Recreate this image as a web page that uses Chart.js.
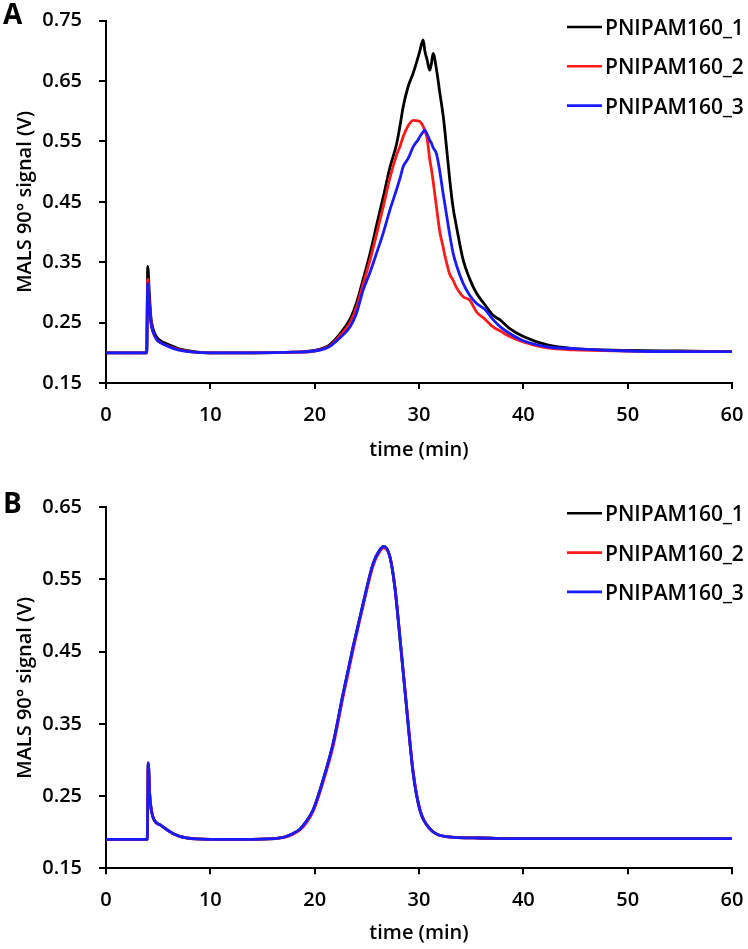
<!DOCTYPE html>
<html>
<head>
<meta charset="utf-8">
<script src="https://cdn.jsdelivr.net/npm/chart.js@4.4.1/dist/chart.umd.min.js"></script>
<style>
  html, body { margin: 0; padding: 0; background: #fff; }
  #wrap { position: relative; width: 748px; height: 949px; }
  #chartA { position: absolute; left: 0; top: 0; }
  #chartB { position: absolute; left: 0; top: 470px; }
</style>
</head>
<body>
<div id="wrap">
  <canvas id="chartA" width="748" height="470"></canvas>
  <canvas id="chartB" width="748" height="479"></canvas>
</div>
<script>
// datos
const seriesNames = ['PNIPAM160_1', 'PNIPAM160_2', 'PNIPAM160_3'];
const seriesColors = ['#000000', '#ff1a1a', '#1a1aff'];
const xTicks = [0, 10, 20, 30, 40, 50, 60];
const yTicksA = [0.15, 0.25, 0.35, 0.45, 0.55, 0.65, 0.75];
const yTicksB = [0.15, 0.25, 0.35, 0.45, 0.55, 0.65];

// panel A
const timeA = [0, 3.9, 4.0, 4.15, 4.3, 4.5, 4.85, 5.3, 5.8, 6.5, 7.1, 8.4, 10, 14, 18, 20, 21, 21.5, 22.5, 23.4, 24, 24.65,
  25.3, 25.93, 26.6, 27.2, 27.84, 28.2, 28.48, 28.96, 29.44, 29.92, 30.08, 30.4, 30.56, 30.78, 31.03, 31.2, 31.35, 31.67,
  32.0, 32.3, 32.47, 32.95, 33.27, 33.59, 34.23, 34.87, 35.5, 36.3, 37.1, 37.8, 38.7, 40, 42.3, 44.8, 50, 55, 60];
const signalA1 = [0.200, 0.200, 0.343, 0.300, 0.260, 0.240, 0.226, 0.219, 0.215, 0.210, 0.206, 0.202, 0.200, 0.200, 0.201, 0.204, 0.209, 0.214, 0.233, 0.256, 0.282, 0.322,
  0.364, 0.411, 0.460, 0.506, 0.545, 0.578, 0.607, 0.641, 0.663, 0.690, 0.700, 0.718, 0.700, 0.685, 0.668, 0.680, 0.696, 0.670,
  0.630, 0.595, 0.569, 0.486, 0.440, 0.409, 0.354, 0.322, 0.299, 0.280, 0.262, 0.254, 0.240, 0.227, 0.213, 0.207, 0.204, 0.203, 0.202];
const signalA2 = [0.200, 0.200, 0.322, 0.285, 0.252, 0.235, 0.222, 0.216, 0.212, 0.208, 0.205, 0.201, 0.200, 0.200, 0.201, 0.203, 0.208, 0.212, 0.230, 0.250, 0.275, 0.314,
  0.353, 0.396, 0.444, 0.489, 0.527, 0.543, 0.558, 0.576, 0.585, 0.584, 0.583, 0.575, 0.568, 0.555, 0.520, 0.503, 0.485, 0.442,
  0.400, 0.376, 0.362, 0.330, 0.320, 0.308, 0.293, 0.287, 0.268, 0.256, 0.243, 0.236, 0.227, 0.218, 0.208, 0.205, 0.203, 0.202, 0.202];
const signalA3 = [0.200, 0.200, 0.315, 0.280, 0.250, 0.235, 0.222, 0.216, 0.212, 0.207, 0.204, 0.201, 0.200, 0.200, 0.201, 0.203, 0.207, 0.211, 0.226, 0.243, 0.265, 0.304,
  0.333, 0.365, 0.400, 0.436, 0.470, 0.490, 0.508, 0.522, 0.541, 0.553, 0.558, 0.566, 0.569, 0.562, 0.552, 0.547, 0.540, 0.530,
  0.500, 0.465, 0.447, 0.395, 0.365, 0.345, 0.315, 0.295, 0.282, 0.272, 0.255, 0.243, 0.232, 0.220, 0.210, 0.207, 0.203, 0.202, 0.202];

// panel B
const timeB = [0, 3.95, 4.05, 4.2, 4.5, 5.2, 6.45, 7.7, 10, 14, 16.7, 17.9, 18.58, 19.2, 19.86, 20.8, 21.77, 22.73, 23.69, 24.65,
  25.6, 26.25, 26.63, 27.2, 27.68, 28.16, 28.8, 29.44, 30.08, 31.03, 32.6, 35.8, 40, 50, 60];
const signalB1 = [0.190, 0.190, 0.296, 0.250, 0.221, 0.210, 0.198, 0.192, 0.190, 0.190, 0.192, 0.198, 0.204, 0.215, 0.231, 0.272, 0.323, 0.392, 0.457, 0.517,
  0.572, 0.591, 0.596, 0.582, 0.540, 0.471, 0.374, 0.282, 0.231, 0.205, 0.194, 0.192, 0.191, 0.191, 0.191];
const signalB2 = [0.190, 0.190, 0.295, 0.250, 0.221, 0.210, 0.198, 0.192, 0.190, 0.190, 0.192, 0.197, 0.203, 0.213, 0.229, 0.269, 0.319, 0.388, 0.453, 0.514,
  0.569, 0.589, 0.594, 0.582, 0.541, 0.473, 0.376, 0.284, 0.232, 0.205, 0.194, 0.192, 0.191, 0.191, 0.191];
const signalB3 = [0.190, 0.190, 0.296, 0.250, 0.221, 0.210, 0.198, 0.192, 0.190, 0.190, 0.192, 0.198, 0.204, 0.215, 0.231, 0.272, 0.323, 0.392, 0.457, 0.517,
  0.572, 0.591, 0.596, 0.582, 0.540, 0.471, 0.374, 0.282, 0.231, 0.205, 0.194, 0.192, 0.191, 0.191, 0.191];

const FONT = '"Open Sans", "DejaVu Sans", sans-serif';
const WEIGHT = '600';
Chart.defaults.font.family = FONT;
Chart.defaults.font.weight = WEIGHT;
Chart.defaults.color = '#000';

// leyenda dentro del area y letra del panel
const panelPlugin = {
  id: 'panelDeco',
  afterDraw(chart, args, opts) {
    const { ctx, chartArea } = chart;
    ctx.save();
    ctx.fillStyle = '#000';
    ctx.textAlign = 'left';
    ctx.textBaseline = 'alphabetic';
    ctx.font = 'bold 28px ' + FONT;
    ctx.fillText(opts.letter, 3, opts.letterBase);
    ctx.font = WEIGHT + ' 21px ' + FONT;
    chart.data.datasets.forEach((ds, i) => {
      const y = opts.legendTop + i * 39.3;
      ctx.strokeStyle = ds.borderColor;
      ctx.lineWidth = 2.6;
      ctx.beginPath();
      ctx.moveTo(chartArea.right - 165, y);
      ctx.lineTo(chartArea.right - 130, y);
      ctx.stroke();
      ctx.fillText(ds.label, chartArea.right - 127, y + 8);
    });
    ctx.restore();
  }
};

function makeDatasets(times, lists) {
  return lists.map((vals, i) => ({
    label: seriesNames[i],
    data: times.map((t, j) => ({ x: t, y: vals[j] })),
    borderColor: seriesColors[i],
    backgroundColor: seriesColors[i],
    borderWidth: 2.8,
    pointRadius: 0,
    cubicInterpolationMode: 'monotone',
    order: 3 - i
  }));
}

function makeChart(id, times, lists, yTicks, cfg) {
  const canvas = document.getElementById(id);
  return new Chart(canvas, {
    type: 'line',
    data: { datasets: makeDatasets(times, lists) },
    options: {
      responsive: false,
      animation: false,
      events: [],
      layout: { padding: { top: cfg.plotTop, left: 0, right: 748 - cfg.plotRight, bottom: 0 } },
      plugins: {
        legend: { display: false },
        tooltip: { enabled: false },
        panelDeco: { letter: cfg.letter, letterBase: cfg.letterBase, legendTop: cfg.legendTop }
      },
      scales: {
        x: {
          type: 'linear',
          min: 0, max: 60,
          afterBuildTicks: s => { s.ticks = xTicks.map(v => ({ value: v })); },
          afterFit: s => {
            s.height = canvas.height - cfg.plotBottom;
            s.paddingLeft = 0;
            s.paddingRight = 0;
          },
          border: { display: true, color: '#000', width: 2 },
          grid: { drawOnChartArea: false, drawTicks: true, tickLength: 6, color: '#000', lineWidth: 2 },
          ticks: { padding: 14, font: { size: 20 }, color: '#000', maxRotation: 0 },
          title: { display: true, text: 'time (min)', font: { size: 20 }, color: '#000', padding: { top: 0, bottom: cfg.titlePad } }
        },
        y: {
          type: 'linear',
          min: yTicks[0], max: yTicks[yTicks.length - 1],
          afterBuildTicks: s => { s.ticks = yTicks.map(v => ({ value: v })); },
          afterFit: s => {
            s.width = 106;
            s.paddingTop = 0;
            s.paddingBottom = 0;
          },
          border: { display: true, color: '#000', width: 2 },
          grid: { drawOnChartArea: false, drawTicks: true, tickLength: 7, color: '#000', lineWidth: 2 },
          ticks: { padding: 17, font: { size: 20 }, color: '#000', callback: v => v.toFixed(2) },
          title: { display: true, text: 'MALS 90° signal (V)', font: { size: 20 }, color: '#000', padding: { top: 13, bottom: 0 } }
        }
      }
    },
    plugins: [panelPlugin]
  });
}

function build() {
  makeChart('chartA', timeA, [signalA1, signalA2, signalA3], yTicksA,
    { plotTop: 20.7, plotBottom: 383, plotRight: 732, titlePad: 8, letter: 'A', letterBase: 24, legendTop: 27 });
  makeChart('chartB', timeB, [signalB1, signalB2, signalB3], yTicksB,
    { plotTop: 37.3, plotBottom: 398.3, plotRight: 732, titlePad: 4, letter: 'B', letterBase: 43, legendTop: 43.3 });
}

if (document.fonts && document.fonts.load) {
  Promise.all([document.fonts.load('600 20px "Open Sans"'), document.fonts.load('bold 28px "Open Sans"')])
    .then(build, build);
} else {
  build();
}
</script>
</body>
</html>
